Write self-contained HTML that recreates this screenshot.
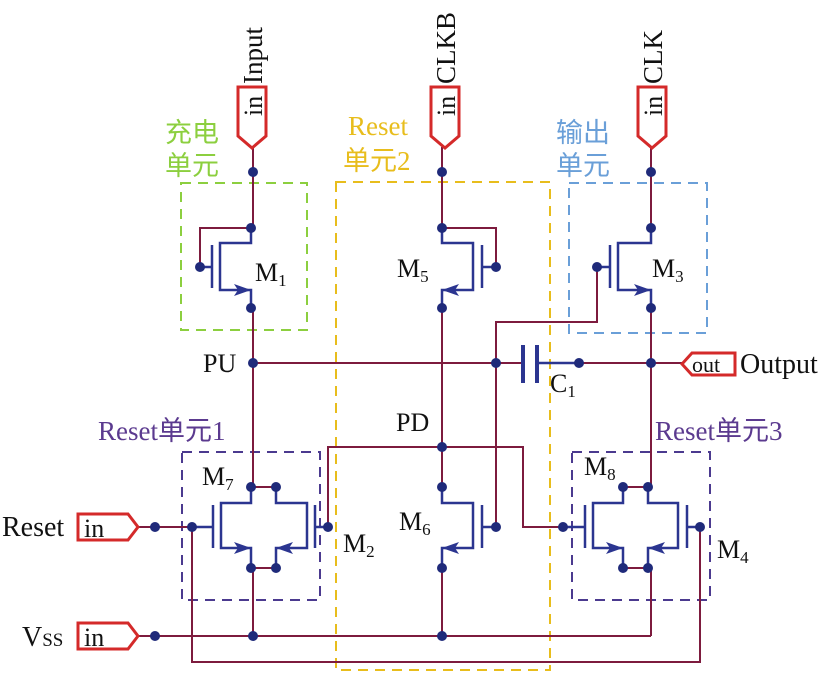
<!DOCTYPE html>
<html><head><meta charset="utf-8"><style>html,body{margin:0;padding:0;background:#fff}svg{display:block}</style></head><body>
<svg width="828" height="674" viewBox="0 0 828 674" xmlns="http://www.w3.org/2000/svg" font-family="Liberation Serif, Noto Serif CJK SC, serif">
<!-- dashed boxes -->
<g fill="none" stroke-width="2" stroke-dasharray="10,7">
<rect x="181" y="183" width="126" height="147" stroke="#8ccf3f"/>
<rect x="336" y="182" width="214" height="488" stroke="#e8bd1c"/>
<rect x="569" y="183" width="138" height="150" stroke="#6a9fd8"/>
<rect x="182" y="452" width="138" height="148" stroke="#4b3a8f"/>
<rect x="572" y="452" width="138" height="148" stroke="#4b3a8f"/>
</g>
<!-- wires -->
<g fill="none" stroke="#7d1b3e" stroke-width="2">
<path d="M253 147V228H200V267"/>
<path d="M253 308V487H276"/>
<path d="M253 568V636"/>
<path d="M276 568H251"/>
<path d="M253 363H523"/>
<path d="M537 363H682"/>
<path d="M442 147V228H496V267"/>
<path d="M442 308V487"/>
<path d="M442 568V636"/>
<path d="M651 147V228"/>
<path d="M651 308V487H623"/>
<path d="M651 568V636"/>
<path d="M623 568H651"/>
<path d="M597 267V322H496V527"/>
<path d="M328 527V447H523V527H563"/>
<path d="M138 527H192"/>
<path d="M138 636H651"/>
<path d="M192 527V662H700V527"/>
</g>
<!-- transistors -->
<g fill="none" stroke="#2b3590" stroke-width="2.5">
<path d="M251 228V243H220V290H251V308"/><path d="M212 245V288"/><path d="M200 267H212"/>
<path d="M442 228V243H473V290H442V308"/><path d="M482 245V288"/><path d="M496 267H482"/>
<path d="M651 228V243H618V290H651V308"/><path d="M610 245V288"/><path d="M597 267H610"/>
<path d="M251 487V503H221V548H251V568"/><path d="M213 505V548"/><path d="M192 527H213"/>
<path d="M276 487V503H307V548H276V568"/><path d="M315 505V548"/><path d="M328 527H315"/>
<path d="M442 487V503H473V548H442V568"/><path d="M482 505V548"/><path d="M496 527H482"/>
<path d="M623 487V503H593V548H623V568"/><path d="M585 505V548"/><path d="M563 527H585"/>
<path d="M648 487V503H678V548H648V568"/><path d="M687 505V548"/><path d="M700 527H687"/>
<path d="M523 345V383M537 345V383" stroke-width="4"/>
<path d="M537 363H579"/>
</g>
<g fill="#2b3590">
<polygon points="251,290 234,284 238,290 234,296"/>
<polygon points="442,290 459,284 455,290 459,296"/>
<polygon points="651,290 634,284 638,290 634,296"/>
<polygon points="251,548 234,542 238,548 234,554"/>
<polygon points="276,548 293,542 289,548 293,554"/>
<polygon points="442,548 459,542 455,548 459,554"/>
<polygon points="623,548 606,542 610,548 606,554"/>
<polygon points="648,548 665,542 661,548 665,554"/>
</g>
<!-- dots -->
<g fill="#1f2a7a">
<circle cx="253" cy="172" r="5"/><circle cx="442" cy="172" r="5"/><circle cx="651" cy="172" r="5"/>
<circle cx="251" cy="228" r="5"/><circle cx="200" cy="267" r="5"/><circle cx="251" cy="308" r="5"/>
<circle cx="442" cy="228" r="5"/><circle cx="496" cy="267" r="5"/><circle cx="442" cy="308" r="5"/>
<circle cx="651" cy="228" r="5"/><circle cx="597" cy="267" r="5"/><circle cx="651" cy="308" r="5"/>
<circle cx="253" cy="363" r="5"/><circle cx="496" cy="363" r="5"/><circle cx="579" cy="363" r="5"/><circle cx="651" cy="363" r="5"/>
<circle cx="442" cy="447" r="5"/>
<circle cx="251" cy="487" r="5"/><circle cx="276" cy="487" r="5"/><circle cx="251" cy="568" r="5"/><circle cx="276" cy="568" r="5"/>
<circle cx="192" cy="527" r="5"/><circle cx="328" cy="527" r="5"/><circle cx="155" cy="527" r="5"/>
<circle cx="442" cy="487" r="5"/><circle cx="496" cy="527" r="5"/><circle cx="442" cy="568" r="5"/>
<circle cx="623" cy="487" r="5"/><circle cx="648" cy="487" r="5"/><circle cx="623" cy="568" r="5"/><circle cx="648" cy="568" r="5"/>
<circle cx="563" cy="527" r="5"/><circle cx="700" cy="527" r="5"/>
<circle cx="155" cy="636" r="5"/><circle cx="253" cy="636" r="5"/><circle cx="442" cy="636" r="5"/>
</g>
<!-- pins -->
<g fill="#fff" stroke="#d42a2a" stroke-width="3">
<polygon points="238,87 266,87 266,136 252,148 238,136"/>
<polygon points="431,87 459,87 459,136 445,148 431,136"/>
<polygon points="638,87 666,87 666,136 652,148 638,136"/>
<polygon points="78,514 128,514 138,527 128,540 78,540"/>
<polygon points="78,623 128,623 138,636 128,649 78,649"/>
<polygon points="682,364 692,353 735,353 735,375 692,375"/>
</g>
<g font-size="26" fill="#111">
<text transform="translate(262,116) rotate(-90)">in</text>
<text transform="translate(455,116) rotate(-90)">in</text>
<text transform="translate(662,116) rotate(-90)">in</text>
<text transform="translate(262,84) rotate(-90)" font-size="27">Input</text>
<text transform="translate(455,84) rotate(-90)" font-size="27">CLKB</text>
<text transform="translate(662,84) rotate(-90)" font-size="27">CLK</text>
<text x="84" y="537">in</text>
<text x="84" y="646">in</text>
<text x="692" y="372" font-size="22">out</text>
<text x="740" y="373" font-size="28">Output</text>
<text x="2" y="536" font-size="28">Reset</text>
<text x="22" y="646" font-size="28">V<tspan font-size="19">SS</tspan></text>
<text x="203" y="372">PU</text>
<text x="396" y="431">PD</text>
<text x="550" y="392">C<tspan font-size="17" dy="5">1</tspan></text>
<text x="255" y="281">M<tspan font-size="17" dy="5">1</tspan></text>
<text x="397" y="277">M<tspan font-size="17" dy="5">5</tspan></text>
<text x="652" y="277">M<tspan font-size="17" dy="5">3</tspan></text>
<text x="202" y="485">M<tspan font-size="17" dy="5">7</tspan></text>
<text x="343" y="552">M<tspan font-size="17" dy="5">2</tspan></text>
<text x="399" y="530">M<tspan font-size="17" dy="5">6</tspan></text>
<text x="584" y="475">M<tspan font-size="17" dy="5">8</tspan></text>
<text x="717" y="558">M<tspan font-size="17" dy="5">4</tspan></text>
</g>
<g font-size="27" font-family="Liberation Serif, Noto Sans CJK SC, sans-serif">
<text x="165" y="142" fill="#8ccf3f">充电</text>
<text x="165" y="175" fill="#8ccf3f">单元</text>
<text x="348" y="135" fill="#e8bd1c">Reset</text>
<text x="343" y="170" fill="#e8bd1c">单元2</text>
<text x="556" y="142" fill="#6a9fd8">输出</text>
<text x="556" y="175" fill="#6a9fd8">单元</text>
<text x="98" y="440" fill="#5b3a8f">Reset单元1</text>
<text x="655" y="440" fill="#5b3a8f">Reset单元3</text>
</g>
</svg>
</body></html>
